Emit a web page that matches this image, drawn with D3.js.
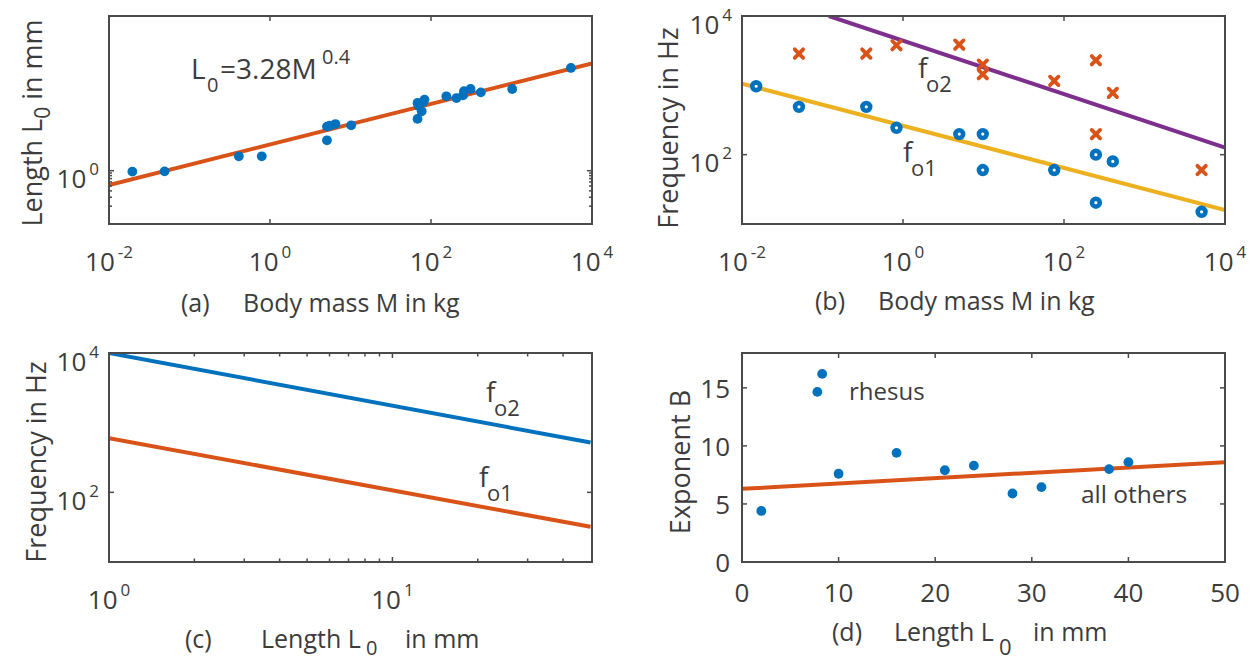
<!DOCTYPE html>
<html>
<head>
<meta charset="utf-8">
<script src="https://cdn.jsdelivr.net/npm/d3@7"></script>
<style>
  body { margin: 0; background: #fff; }
  text { font-family: "Open Sans", sans-serif; fill: #3c3c3c; }
</style>
</head>
<body>
<svg id="chart" width="1260" height="662"></svg>
<script>
// (a) body length vs body mass
const massA = [0.0195, 0.049, 0.41, 0.79, 5.1, 5.1, 5.5, 6.5, 10.2, 68, 68, 70, 76.6, 80, 83, 155, 207, 250, 257, 310, 416, 1020, 5470];
const lengthA = [0.96, 0.97, 1.92, 1.92, 3.97, 7.4, 7.7, 8.3, 7.85, 10.5, 21.7, 19, 14.8, 22.5, 25.2, 29.3, 27, 30.5, 36.8, 40.8, 35, 40.8, 106];
const fitLineA = [[0.01, 0.52], [10000, 130.6]];

// (b) frequencies vs body mass
const massB1 = [0.015, 0.051, 0.35, 0.83, 5.0, 9.8, 9.8, 75.6, 249, 404, 249, 5120];
const freqB1 = [970, 489, 489, 244, 198, 198, 60, 60, 100, 80, 20.3, 15];
const massB2 = [0.051, 0.35, 0.83, 5.0, 9.8, 9.8, 75.6, 249, 404, 249, 5120];
const freqB2 = [2870, 2870, 3790, 3860, 1990, 1445, 1160, 2300, 778, 198, 60];
const fo1LineB = [[0.01, 1060], [10000, 15.9]];
const fo2LineB = [[0.12, 10000], [10000, 126]];

// (c) frequencies vs length
const fo2LineC = [[1, 10000], [50, 519]];
const fo1LineC = [[1, 599], [50, 32]];

// (d) exponent vs length
const lengthD = [2.0, 7.8, 8.3, 10.0, 16.0, 21.0, 24.0, 28.0, 31.0, 38.0, 40.0];
const exponentD = [4.4, 14.65, 16.2, 7.6, 9.4, 7.9, 8.3, 5.9, 6.45, 8.0, 8.6];
const fitLineD = [[0, 6.3], [50, 8.6]];

const logTicksMass = [1e-2, 1e0, 1e2, 1e4];
const linTicksD = [0, 10, 20, 30, 40, 50];
const linTicksDy = [0, 5, 10, 15];

const blue = '#0072BD', orange = '#D95319', yellow = '#EDB120', purple = '#7E2F8E';
const axisColor = '#4a4a4a';

const svg = d3.select('#chart');
svg.append('rect').attr('width', 1260).attr('height', 662).attr('fill', '#fff');

const boxes = {
  a: { x0: 109, x1: 592, y0: 16, y1: 224 },
  b: { x0: 742, x1: 1225, y0: 16, y1: 224 },
  c: { x0: 109, x1: 592, y0: 353, y1: 562 },
  d: { x0: 742, x1: 1225, y0: 353, y1: 562 }
};

function panel(id) {
  const b = boxes[id];
  const g = svg.append('g').attr('class', 'panel-' + id);
  g.append('clipPath').attr('id', 'clip-' + id)
    .append('rect').attr('x', b.x0).attr('y', b.y0).attr('width', b.x1 - b.x0).attr('height', b.y1 - b.y0);
  return g;
}

function frame(g, id) {
  const b = boxes[id];
  g.append('rect')
    .attr('x', b.x0).attr('y', b.y0)
    .attr('width', b.x1 - b.x0).attr('height', b.y1 - b.y0)
    .attr('fill', 'none').attr('stroke', axisColor).attr('stroke-width', 2);
}

function xTicks(g, id, x, vals, len) {
  const b = boxes[id];
  vals.forEach(v => {
    const px = x(v);
    g.append('line').attr('x1', px).attr('x2', px).attr('y1', b.y1).attr('y2', b.y1 - len)
      .attr('stroke', axisColor).attr('stroke-width', 1.5);
    g.append('line').attr('x1', px).attr('x2', px).attr('y1', b.y0).attr('y2', b.y0 + len)
      .attr('stroke', axisColor).attr('stroke-width', 1.5);
  });
}

function yTicks(g, id, y, vals, len) {
  const b = boxes[id];
  vals.forEach(v => {
    const py = y(v);
    g.append('line').attr('y1', py).attr('y2', py).attr('x1', b.x0).attr('x2', b.x0 + len)
      .attr('stroke', axisColor).attr('stroke-width', 1.5);
    g.append('line').attr('y1', py).attr('y2', py).attr('x1', b.x1).attr('x2', b.x1 - len)
      .attr('stroke', axisColor).attr('stroke-width', 1.5);
  });
}

function powLabel(g, px, py, anchor, exp) {
  const t = g.append('text').attr('x', px).attr('y', py)
    .attr('text-anchor', anchor).style('font-size', '26px');
  t.append('tspan').text('10');
  t.append('tspan').attr('dx', 3).attr('dy', -13).style('font-size', '17px').text(exp);
}

function xLogLabels(g, id, x, vals) {
  const b = boxes[id];
  vals.forEach(v => powLabel(g, x(v), b.y1 + 47, 'middle', Math.round(Math.log10(v))));
}

function yLogLabels(g, id, y, vals) {
  const b = boxes[id];
  vals.forEach(v => powLabel(g, b.x0 - 10, y(v) + 17.5, 'end', Math.round(Math.log10(v))));
}

function yTitle(g, px, py, parts) {
  const t = g.append('text')
    .attr('transform', `translate(${px},${py}) rotate(-90)`)
    .attr('text-anchor', 'middle').style('font-size', '27px');
  parts.forEach(p => {
    const s = t.append('tspan').text(p.text);
    if (p.dy) s.attr('dy', p.dy);
    if (p.size) s.style('font-size', p.size);
  });
}

function label(g, px, py, txt, size) {
  g.append('text').attr('x', px).attr('y', py).style('font-size', size + 'px').text(txt);
}

function fLabel(g, px, py, sub) {
  label(g, px, py, 'f', 28);
  label(g, px + 8, py + 14, sub, 22);
}

const lineGen = (x, y) => d3.line().x(d => x(d[0])).y(d => y(d[1]));

// ---------- (a)
{
  const b = boxes.a;
  const g = panel('a');
  const x = d3.scaleLog().domain([1e-2, 1e4]).range([b.x0, b.x1]);
  const y = d3.scaleLog().domain([0.089, 1120]).range([b.y1, b.y0]);

  g.append('path').datum(fitLineA)
    .attr('clip-path', 'url(#clip-a)')
    .attr('d', lineGen(x, y))
    .attr('fill', 'none').attr('stroke', orange).attr('stroke-width', 4);

  g.selectAll('circle.pt').data(massA.map((m, i) => [m, lengthA[i]]))
    .enter().append('circle').attr('class', 'pt')
    .attr('cx', d => x(d[0])).attr('cy', d => y(d[1])).attr('r', 4.9)
    .attr('fill', blue);

  frame(g, 'a');
  xTicks(g, 'a', x, logTicksMass, 5);
  yTicks(g, 'a', y, [1], 5);
  yTicks(g, 'a', y, [0.2, 0.3, 0.4, 0.5, 0.6, 0.7, 0.8, 0.9], 3);
  xLogLabels(g, 'a', x, logTicksMass);
  yLogLabels(g, 'a', y, [1]);

  yTitle(g, 42, 123, [{ text: 'Length L' }, { text: '0', dy: 8, size: '21px' }, { text: ' in mm', dy: -8 }]);
  label(g, 181, 312, '(a)', 25);
  label(g, 243, 312, 'Body mass M in kg', 25);

  label(g, 191, 79, 'L', 28);
  label(g, 207, 92, '0', 20);
  label(g, 220, 79, '=3.28M', 28);
  label(g, 322, 64, '0.4', 20);
}

// ---------- (b)
{
  const b = boxes.b;
  const g = panel('b');
  const x = d3.scaleLog().domain([1e-2, 1e4]).range([b.x0, b.x1]);
  const y = d3.scaleLog().domain([10, 1e4]).range([b.y1, b.y0]);

  g.append('path').datum(fo2LineB).attr('clip-path', 'url(#clip-b)')
    .attr('d', lineGen(x, y)).attr('fill', 'none').attr('stroke', purple).attr('stroke-width', 4);
  g.append('path').datum(fo1LineB).attr('clip-path', 'url(#clip-b)')
    .attr('d', lineGen(x, y)).attr('fill', 'none').attr('stroke', yellow).attr('stroke-width', 4);

  g.selectAll('circle.o1').data(massB1.map((m, i) => [m, freqB1[i]]))
    .enter().append('circle').attr('class', 'o1')
    .attr('cx', d => x(d[0])).attr('cy', d => y(d[1])).attr('r', 3.9)
    .attr('fill', '#fff').attr('stroke', blue).attr('stroke-width', 4.6);

  const s = 4.2;
  g.selectAll('path.o2').data(massB2.map((m, i) => [m, freqB2[i]]))
    .enter().append('path').attr('class', 'o2')
    .attr('d', d => {
      const cx = x(d[0]), cy = y(d[1]);
      return `M${cx - s},${cy - s}L${cx + s},${cy + s}M${cx - s},${cy + s}L${cx + s},${cy - s}`;
    })
    .attr('stroke', orange).attr('stroke-width', 3.8).attr('stroke-linecap', 'round');

  frame(g, 'b');
  xTicks(g, 'b', x, logTicksMass, 5);
  yTicks(g, 'b', y, [1e2, 1e4], 5);
  xLogLabels(g, 'b', x, logTicksMass);
  yLogLabels(g, 'b', y, [1e2, 1e4]);

  yTitle(g, 678, 128, [{ text: 'Frequency in Hz' }]);
  label(g, 815, 310, '(b)', 25);
  label(g, 878, 310, 'Body mass M in kg', 25);

  fLabel(g, 918, 78, 'o2');
  fLabel(g, 903, 162, 'o1');
}

// ---------- (c)
{
  const b = boxes.c;
  const g = panel('c');
  const x = d3.scaleLog().domain([1, 50.6]).range([b.x0, b.x1]);
  const y = d3.scaleLog().domain([10, 1e4]).range([b.y1, b.y0]);

  g.append('path').datum(fo2LineC).attr('clip-path', 'url(#clip-c)')
    .attr('d', lineGen(x, y)).attr('fill', 'none').attr('stroke', blue).attr('stroke-width', 4);
  g.append('path').datum(fo1LineC).attr('clip-path', 'url(#clip-c)')
    .attr('d', lineGen(x, y)).attr('fill', 'none').attr('stroke', orange).attr('stroke-width', 4);

  frame(g, 'c');
  xTicks(g, 'c', x, [1, 10], 5);
  xTicks(g, 'c', x, [2, 3, 4, 5, 6, 7, 8, 9, 20, 30, 40], 3.5);
  yTicks(g, 'c', y, [1e2, 1e4], 5);
  xLogLabels(g, 'c', x, [1, 10]);
  yLogLabels(g, 'c', y, [1e2, 1e4]);

  yTitle(g, 46, 462, [{ text: 'Frequency in Hz' }]);
  label(g, 185, 648, '(c)', 25);
  label(g, 261, 648, 'Length L', 25);
  label(g, 366, 655, '0', 20);
  label(g, 405, 648, 'in mm', 25);

  fLabel(g, 486, 402, 'o2');
  fLabel(g, 479, 487, 'o1');
}

// ---------- (d)
{
  const b = boxes.d;
  const g = panel('d');
  const x = d3.scaleLinear().domain([0, 50]).range([b.x0, b.x1]);
  const y = d3.scaleLinear().domain([0, 18]).range([b.y1, b.y0]);

  g.append('path').datum(fitLineD).attr('clip-path', 'url(#clip-d)')
    .attr('d', lineGen(x, y)).attr('fill', 'none').attr('stroke', orange).attr('stroke-width', 4);

  g.selectAll('circle.pt').data(lengthD.map((l, i) => [l, exponentD[i]]))
    .enter().append('circle').attr('class', 'pt')
    .attr('cx', d => x(d[0])).attr('cy', d => y(d[1])).attr('r', 4.9)
    .attr('fill', blue);

  frame(g, 'd');
  xTicks(g, 'd', x, linTicksD, 5);
  yTicks(g, 'd', y, linTicksDy, 5);

  linTicksD.forEach(v => {
    g.append('text').attr('x', x(v)).attr('y', b.y1 + 40)
      .attr('text-anchor', 'middle').style('font-size', '26px').text(v);
  });
  linTicksDy.forEach(v => {
    g.append('text').attr('x', b.x0 - 12).attr('y', y(v) + 10)
      .attr('text-anchor', 'end').style('font-size', '26px').text(v);
  });

  yTitle(g, 690, 462, [{ text: 'Exponent B' }]);
  label(g, 832, 641, '(d)', 25);
  label(g, 894, 641, 'Length L', 25);
  label(g, 999, 655, '0', 22);
  label(g, 1033, 641, 'in mm', 25);

  label(g, 849, 400, 'rhesus', 24);
  label(g, 1081, 503, 'all others', 24.5);
}
</script>
</body>
</html>
